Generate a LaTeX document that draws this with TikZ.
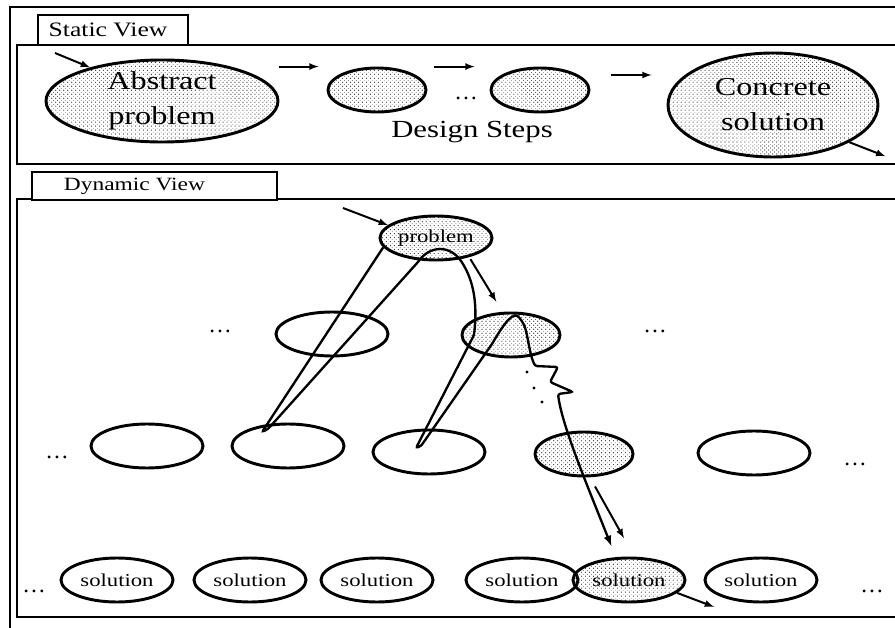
\documentclass[tikz,border=0pt]{standalone}
\usepackage{fontspec}
\setmainfont{Liberation Serif}
\usetikzlibrary{shapes.geometric,patterns.meta}
\newcommand{\wtext}[1]{\scalebox{1.25}[1]{#1}}
\tikzdeclarepattern{name=spots,type=uncolored,
	bounding box={(-1.7pt,-1.7pt) and (1.7pt,1.7pt)},
	tile size={(3.4pt,3.4pt)},
	code={\fill (0pt,0pt) circle[radius=0.5pt];
		\fill (1.7pt,1.7pt) circle[radius=0.5pt];}}

\begin{document}
\begin{tikzpicture}[x=0.03cm,y=-0.03cm,
	frame/.style={line width=2.2pt},
	lblbox/.style={draw,line width=2.2pt,inner sep=0pt,minimum height=0.9cm},
	ell/.style={ellipse,draw,line width=2.5pt,inner sep=0pt,minimum width=3.36cm,minimum height=1.32cm},
	dotell/.style={ell,pattern=spots,pattern color=black!85},
	thin/.style={minimum width=2.94cm},
	arr/.style={-latex,line width=1.7pt},
	search/.style={line width=2pt,rounded corners=2pt},
	bigfont/.style={font=\fontsize{22}{30}\selectfont},
	midfont/.style={font=\fontsize{21}{25}\selectfont},
	smallfont/.style={font=\fontsize{15.5}{18}\selectfont},
	dotsfont/.style={font=\fontsize{20}{24}\selectfont}]
				\useasboundingbox (0,0) rectangle (895,628);
				\clip (0,0) rectangle (895,628);
				\draw[frame] (10,7) rectangle (905,640);
				\draw[frame] (17,45) rectangle (905,164);
				\draw[frame] (17,199) rectangle (905,617);
				
				\node (stlbl) [lblbox,fill=white,minimum width=4.5cm,label={[font=\fontsize{17.5}{21}\selectfont,xshift=-0.15cm]center:\wtext{Static View}}] at (113,30) {};
				\node (dylbl) [lblbox,fill=white,minimum width=7.35cm,minimum height=0.84cm,label={[font=\fontsize{16}{19}\selectfont,xshift=-0.6cm]center:\wtext{Dynamic View}}] at (154.5,186) {};
				
				\node (abs) [dotell,minimum width=6.96cm,minimum height=2.46cm,label={[bigfont,align=center]center:\wtext{Abstract}\\\wtext{problem}}] at (162,101) {};
				\node (step1) [dotell,thin] at (377,90) {};
				\node (step2) [dotell,thin] at (540,90) {};
				\node (conc) [dotell,minimum width=6.3cm,minimum height=3.12cm,label={[bigfont,align=center]center:\wtext{Concrete}\\\wtext{solution}}] at (773,105) {};
				\node (sdots) [dotsfont,anchor=base] at (466,100) {\ldots};
				\node (design) [midfont,anchor=base] at (472,138) {\wtext{Design Steps}};
				\draw[arr] (55,53) -- (abs.155);
				\draw[arr] (abs.east |- step1.north) -- ([xshift=-0.24cm]step1.west |- step1.north);
				\draw[arr] ([xshift=0.21cm]step1.east |- step2.north) -- ([xshift=-0.45cm]step2.west |- step2.north);
				\draw[arr] ([xshift=0.63cm,yshift=0.45cm]step2.east) -- ([xshift=-0.45cm,yshift=0.45cm]step2.east -| conc.west);
				\draw[arr] (conc.-26) -- ++(36,14);
				
				\node (prob) [dotell,smallfont] at (436,238) {\wtext{problem}};
				\node (mid1) [ell] at (332,334) {};
				\node (mid2) [dotell,thin] at (511,335) {};
				\node (low1) [ell] at (147,446) {};
				\node (low2) [ell] at (288,446) {};
				\node (low3) [ell] at (429,452) {};
				\node (low4) [dotell,thin] at (584,454) {};
				\node (low5) [ell] at (754,453) {};
				\node (sol1) [ell,smallfont] at (117,580) {\wtext{solution}};
				\node (sol2) [ell,smallfont] at (250,580) {\wtext{solution}};
				\node (sol3) [ell,smallfont] at (377,580) {\wtext{solution}};
				\node (sol4) [ell,smallfont] at (522,580) {\wtext{solution}};
				\node (sol5) [dotell,smallfont] at (629,580) {\wtext{solution}};
				\node (sol6) [ell,smallfont] at (761,580) {\wtext{solution}};
				
				\node (d1) [dotsfont,anchor=base] at (220,333) {\ldots};
				\node (d2) [dotsfont,anchor=base] at (655,333) {\ldots};
				\node (d3) [dotsfont,anchor=base] at (57,458) {\ldots};
				\node (d4) [dotsfont,anchor=base] at (855,465) {\ldots};
				\node (d5) [dotsfont,anchor=base] at (34,592) {\ldots};
				\node (d6) [dotsfont,anchor=base] at (872,592) {\ldots};
				\fill (527,372) circle[radius=1.6];
				\fill (534,388) circle[radius=1.6];
				\fill (542,402) circle[radius=1.6];
				
				\draw[arr] (343,208) -- (prob.165);
				\draw[arr,shorten <=2pt,shorten >=0.36cm] (prob.-30) -- (mid2.110);
				\draw[search,-latex,shorten >=0.36cm] (prob.190) -- (262,432) -- (268,429) -- (418,262) .. controls (430,246) and (450,244) .. (463,264) .. controls (472,280) and (478,300) .. (474,335) -- (416,448) -- (421,446) -- (492,344) .. controls (505,322) and (514,310) .. (521,320) .. controls (528,330) and (528,350) .. (535,366) -- (558,367) -- (550,382) -- (573,392) -- (558,394) .. controls (562,425) and (585,480) .. (sol5.120);
				\draw[arr] ([xshift=0.33cm,yshift=-0.27cm]low4.south) -- ([xshift=-0.15cm,yshift=0.55cm]sol5.north);
				\draw[arr] (sol5.-15) -- ++(37,14);
			\end{tikzpicture}
\end{document}
